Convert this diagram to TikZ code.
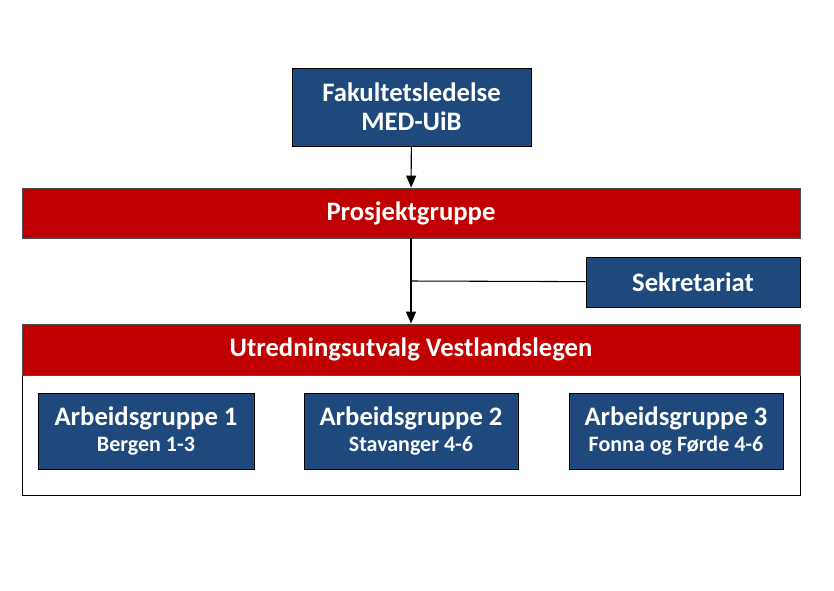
\documentclass[tikz,border=0pt]{standalone}
\usepackage{fontspec}
\setmainfont{Carlito}
\usetikzlibrary{positioning,arrows.meta}

\definecolor{boxblue}{RGB}{31,73,125}
\definecolor{boxred}{RGB}{192,0,0}
\newcommand{\subline}[1]{{\bfseries\fontsize{16.5}{19}\selectfont #1}}

\tikzset{
  bluebox/.style={shape=rectangle,draw=black,fill=boxblue,text=white,align=center,line width=0.6pt,font=\bfseries\fontsize{20}{22}\selectfont,inner sep=0pt},
  redbar/.style={shape=rectangle,draw=black!70,fill=boxred,text=white,align=center,line width=0.6pt,font=\bfseries\fontsize{20}{22}\selectfont,inner sep=0pt},
  link/.style={draw=black,line width=0.8pt},
  tip/.style={-{Triangle[length=9pt,width=7.5pt]}}
}

\begin{document}
\begin{tikzpicture}[x=0.75pt,y=-0.75pt]
\useasboundingbox (0,0) rectangle (834,590);

\node[bluebox,minimum width=179.25pt,minimum height=58.5pt] (0) at (411.5,107) {Fakultetsledelse\\MED-UiB};
\node[redbar,minimum width=583.5pt,minimum height=37.5pt] (1) at (411,213) {Prosjektgruppe};
\node[bluebox,minimum width=160.5pt,minimum height=37.5pt] (2) at (693,282) {Sekretariat};

\draw[draw=black,fill=white,line width=0.6pt] (22,324) rectangle (800,495);
\node[redbar,minimum width=583.5pt,minimum height=38.25pt] (3) at (411,349.5) {Utredningsutvalg Vestlandslegen};

\node[bluebox,minimum width=162pt,minimum height=57pt] (4) at (146,431) {Arbeidsgruppe 1\\[-2pt]\subline{Bergen 1-3}};
\node[bluebox,minimum width=160.5pt,minimum height=57pt] (5) at (411,431) {Arbeidsgruppe 2\\[-2pt]\subline{Stavanger 4-6}};
\node[bluebox,minimum width=160.5pt,minimum height=57pt] (6) at (676,431) {Arbeidsgruppe 3\\[-2pt]\subline{Fonna og Førde 4-6}};

\coordinate (7) at (411,281);

\path [tip,link] (0) edge node {} (1);
\path [tip,link] (1) edge node {} (3);
\path [link] (2) edge node {} (7);
\end{tikzpicture}
\end{document}
